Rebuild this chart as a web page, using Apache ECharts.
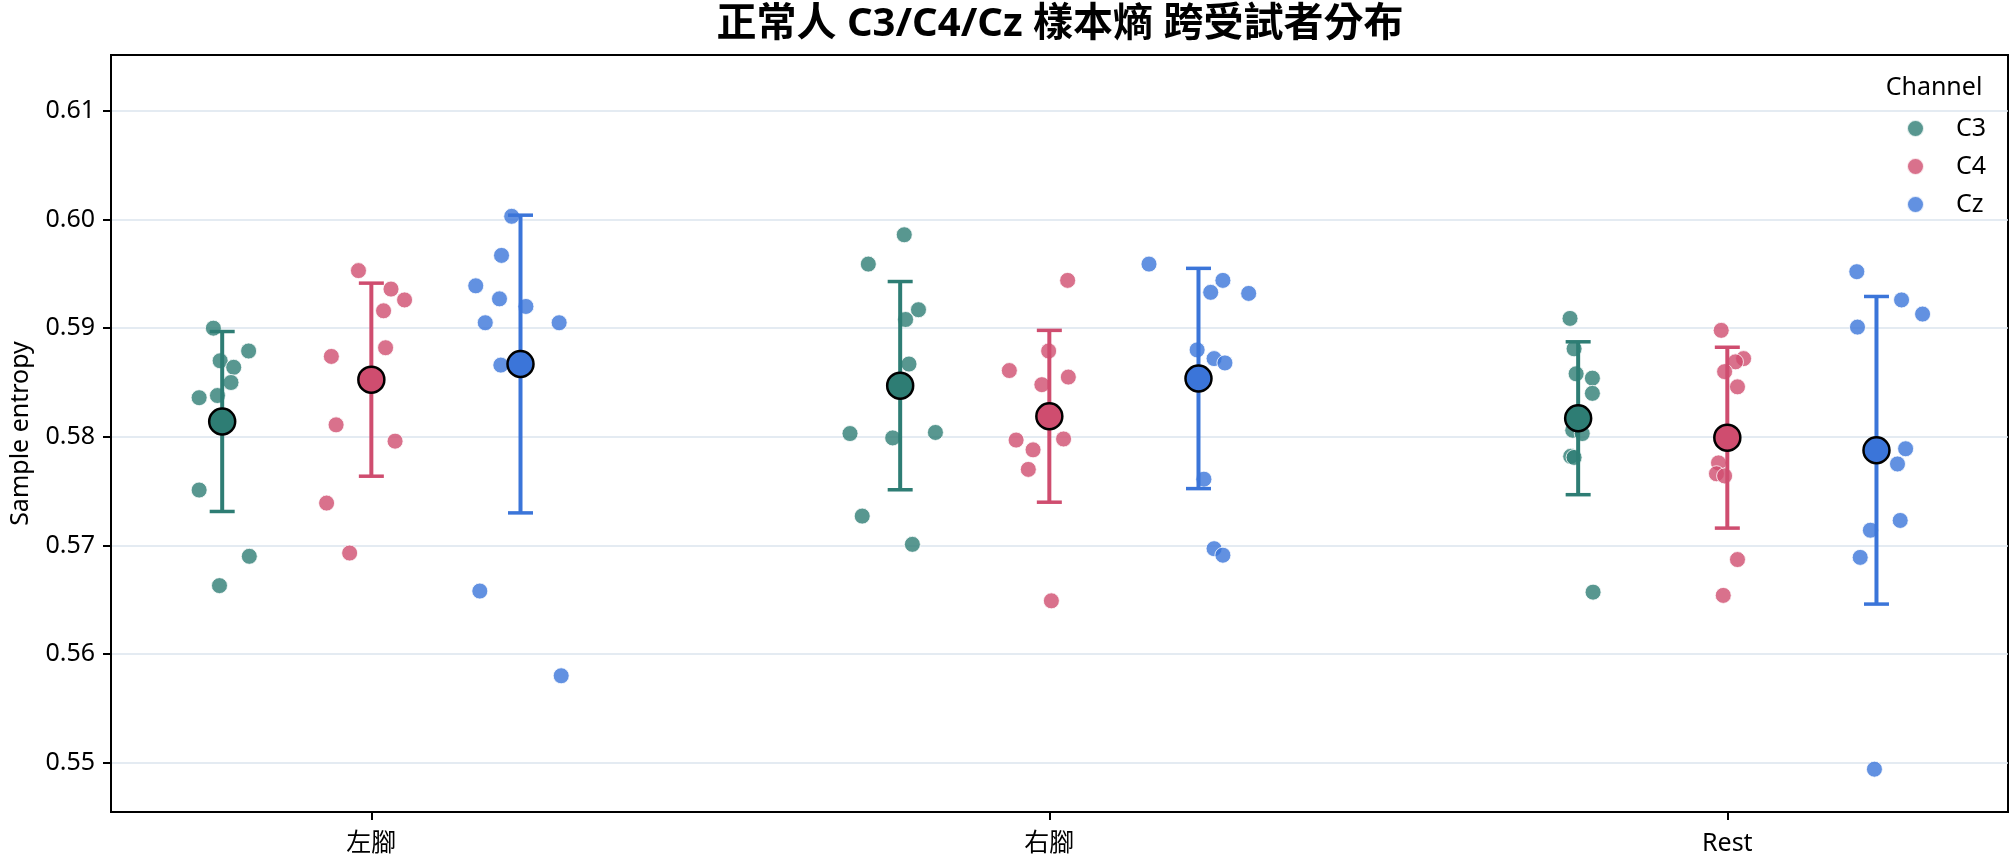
<!DOCTYPE html>
<html>
<head>
<meta charset="utf-8">
<title>正常人 C3/C4/Cz 樣本熵 跨受試者分布</title>
<script src="https://cdn.jsdelivr.net/npm/echarts@6/dist/echarts.min.js"></script>
<style>
  html, body { margin: 0; padding: 0; background: #fff; }
  #chart { width: 2015px; height: 864px; }
</style>
</head>
<body>
<div id="chart"></div>
<script>
const conditions = ['左腳', '右腳', 'Rest'];
const channels = ['C3', 'C4', 'Cz'];
const yTicks = [0.55, 0.56, 0.57, 0.58, 0.59, 0.60, 0.61];

// sample entropy per subject, rows = 左腳 / 右腳 / Rest
const c3Values = [
  [0.5900, 0.5879, 0.5870, 0.5864, 0.5850, 0.5836, 0.5838, 0.5751, 0.5690, 0.5663],
  [0.5986, 0.5959, 0.5917, 0.5908, 0.5867, 0.5803, 0.5799, 0.5804, 0.5727, 0.5701],
  [0.5909, 0.5881, 0.5858, 0.5854, 0.5840, 0.5806, 0.5803, 0.5782, 0.5781, 0.5657]
];
const c4Values = [
  [0.5953, 0.5936, 0.5926, 0.5916, 0.5874, 0.5882, 0.5811, 0.5796, 0.5739, 0.5693],
  [0.5944, 0.5879, 0.5861, 0.5855, 0.5848, 0.5797, 0.5798, 0.5788, 0.5770, 0.5649],
  [0.5898, 0.5872, 0.5869, 0.5860, 0.5846, 0.5776, 0.5766, 0.5764, 0.5687, 0.5654]
];
const czValues = [
  [0.6003, 0.5967, 0.5939, 0.5927, 0.5920, 0.5905, 0.5905, 0.5866, 0.5658, 0.5580],
  [0.5959, 0.5944, 0.5933, 0.5932, 0.5880, 0.5872, 0.5868, 0.5761, 0.5697, 0.5691],
  [0.5952, 0.5926, 0.5913, 0.5901, 0.5789, 0.5775, 0.5723, 0.5714, 0.5689, 0.5494]
];

// strip-plot jitter (in category units)
const c3Jitter = [
  [-0.013, 0.039, -0.003, 0.017, 0.013, -0.034, -0.007, -0.034, 0.040, -0.004],
  [0.006, -0.047, 0.027, 0.008, 0.013, -0.074, -0.011, 0.052, -0.056, 0.018],
  [-0.012, -0.006, -0.003, 0.021, 0.021, -0.008, 0.006, -0.011, -0.006, 0.022]
];
const c4Jitter = [
  [-0.019, 0.029, 0.049, 0.018, -0.059, 0.021, -0.052, 0.035, -0.066, -0.032],
  [0.027, -0.001, -0.059, 0.028, -0.011, -0.049, 0.021, -0.024, -0.031, 0.003],
  [-0.009, 0.024, 0.012, -0.004, 0.015, -0.013, -0.016, -0.004, 0.015, -0.006]
];
const czJitter = [
  [-0.013, -0.028, -0.066, -0.031, 0.008, -0.052, 0.057, -0.029, -0.060, 0.060],
  [-0.073, 0.036, 0.018, 0.074, -0.002, 0.023, 0.039, 0.008, 0.023, 0.036],
  [-0.029, 0.037, 0.068, -0.028, 0.043, 0.031, 0.035, -0.009, -0.024, -0.003]
];

const channelValues = [c3Values, c4Values, czValues];
const channelJitter = [c3Jitter, c4Jitter, czJitter];
const colors = ['#2e7d74', '#cf4d6f', '#3b75d9'];
const FONT = '"Noto Sans", "Noto Sans CJK TC", sans-serif';
const DODGE = 0.22;

function mean(arr) {
  return arr.reduce((a, b) => a + b, 0) / arr.length;
}
function sd(arr) {
  const m = mean(arr);
  return Math.sqrt(arr.reduce((a, b) => a + (b - m) * (b - m), 0) / (arr.length - 1));
}

const series = [];
channels.forEach((ch, ci) => {
  const pts = [], bars = [], means = [];
  conditions.forEach((c, k) => {
    const x0 = k + (ci - 1) * DODGE;
    channelValues[ci][k].forEach((v, i) => {
      pts.push([x0 + channelJitter[ci][k][i], v]);
    });
    const m = mean(channelValues[ci][k]);
    const s = sd(channelValues[ci][k]);
    bars.push([x0, m - s, m + s]);
    means.push([x0, m]);
  });

  // individual subjects
  series.push({
    name: ch,
    type: 'scatter',
    data: pts,
    symbol: 'circle',
    symbolSize: 16,
    z: 2,
    itemStyle: { color: colors[ci], opacity: 0.8, borderColor: '#fff', borderWidth: 1 }
  });

  // mean ± SD bars
  series.push({
    name: ch + ' sd',
    type: 'custom',
    data: bars,
    z: 3,
    renderItem: function (params, api) {
      const x = api.value(0);
      const top = api.coord([x, api.value(2)]);
      const bot = api.coord([x, api.value(1)]);
      const half = 12.5;
      const st = { stroke: colors[ci], lineWidth: 4 };
      const cap = { stroke: colors[ci], lineWidth: 3.5 };
      return {
        type: 'group',
        children: [
          { type: 'line', shape: { x1: top[0], y1: top[1], x2: bot[0], y2: bot[1] }, style: st },
          { type: 'line', shape: { x1: top[0] - half, y1: top[1], x2: top[0] + half, y2: top[1] }, style: cap },
          { type: 'line', shape: { x1: bot[0] - half, y1: bot[1], x2: bot[0] + half, y2: bot[1] }, style: cap }
        ]
      };
    }
  });

  // means
  series.push({
    name: ch + ' mean',
    type: 'scatter',
    data: means,
    symbol: 'circle',
    symbolSize: 26,
    z: 4,
    itemStyle: { color: colors[ci], opacity: 1, borderColor: '#000', borderWidth: 2.5 }
  });
});

const chart = echarts.init(document.getElementById('chart'));
chart.setOption({
  animation: false,
  backgroundColor: '#fff',
  textStyle: { fontFamily: FONT },
  title: {
    text: '正常人 C3/C4/Cz 樣本熵 跨受試者分布',
    left: 1060,
    top: 5,
    textAlign: 'center',
    padding: 0,
    textStyle: { fontSize: 40, fontWeight: 'bold', color: '#000', fontFamily: FONT }
  },
  legend: {
    data: channels,
    orient: 'vertical',
    left: 1901,
    top: 111,
    itemWidth: 17,
    itemHeight: 17,
    itemGap: 13,
    icon: 'circle',
    textStyle: { fontSize: 25, color: '#000', fontFamily: FONT, padding: [0, 0, 0, 27] }
  },
  graphic: [{
    type: 'text',
    x: 1934,
    y: 88,
    style: {
      text: 'Channel',
      fontSize: 25,
      fontFamily: FONT,
      fill: '#000',
      align: 'center',
      verticalAlign: 'middle'
    }
  }],
  grid: {
    left: 110,
    right: 7,
    top: 55,
    bottom: 52,
    show: true,
    borderColor: '#000',
    borderWidth: 2,
    backgroundColor: 'transparent'
  },
  xAxis: {
    type: 'value',
    min: -0.384,
    max: 2.414,
    splitLine: { show: false },
    axisLine: { show: true, onZero: false, lineStyle: { color: '#000', width: 2 } },
    axisTick: { show: true, customValues: [0, 1, 2], length: 8, lineStyle: { color: '#000', width: 2 } },
    axisLabel: {
      customValues: [0, 1, 2],
      formatter: v => conditions[Math.round(v)],
      fontSize: 25,
      color: '#000',
      margin: 19,
      fontFamily: FONT
    }
  },
  yAxis: {
    type: 'value',
    min: 0.54546,
    max: 0.61515,
    name: 'Sample entropy',
    nameLocation: 'middle',
    nameGap: 78,
    nameTextStyle: { fontSize: 25, color: '#000', fontFamily: FONT },
    axisLine: { show: true, onZero: false, lineStyle: { color: '#000', width: 2 } },
    axisTick: { show: true, customValues: yTicks, length: 8, lineStyle: { color: '#000', width: 2 } },
    axisLabel: {
      customValues: yTicks,
      formatter: v => v.toFixed(2),
      fontSize: 25,
      color: '#000',
      margin: 16,
      fontFamily: FONT
    },
    splitLine: { show: true, lineStyle: { color: '#dbe5ee', width: 1.5 } }
  },
  series: series
});
</script>
</body>
</html>
